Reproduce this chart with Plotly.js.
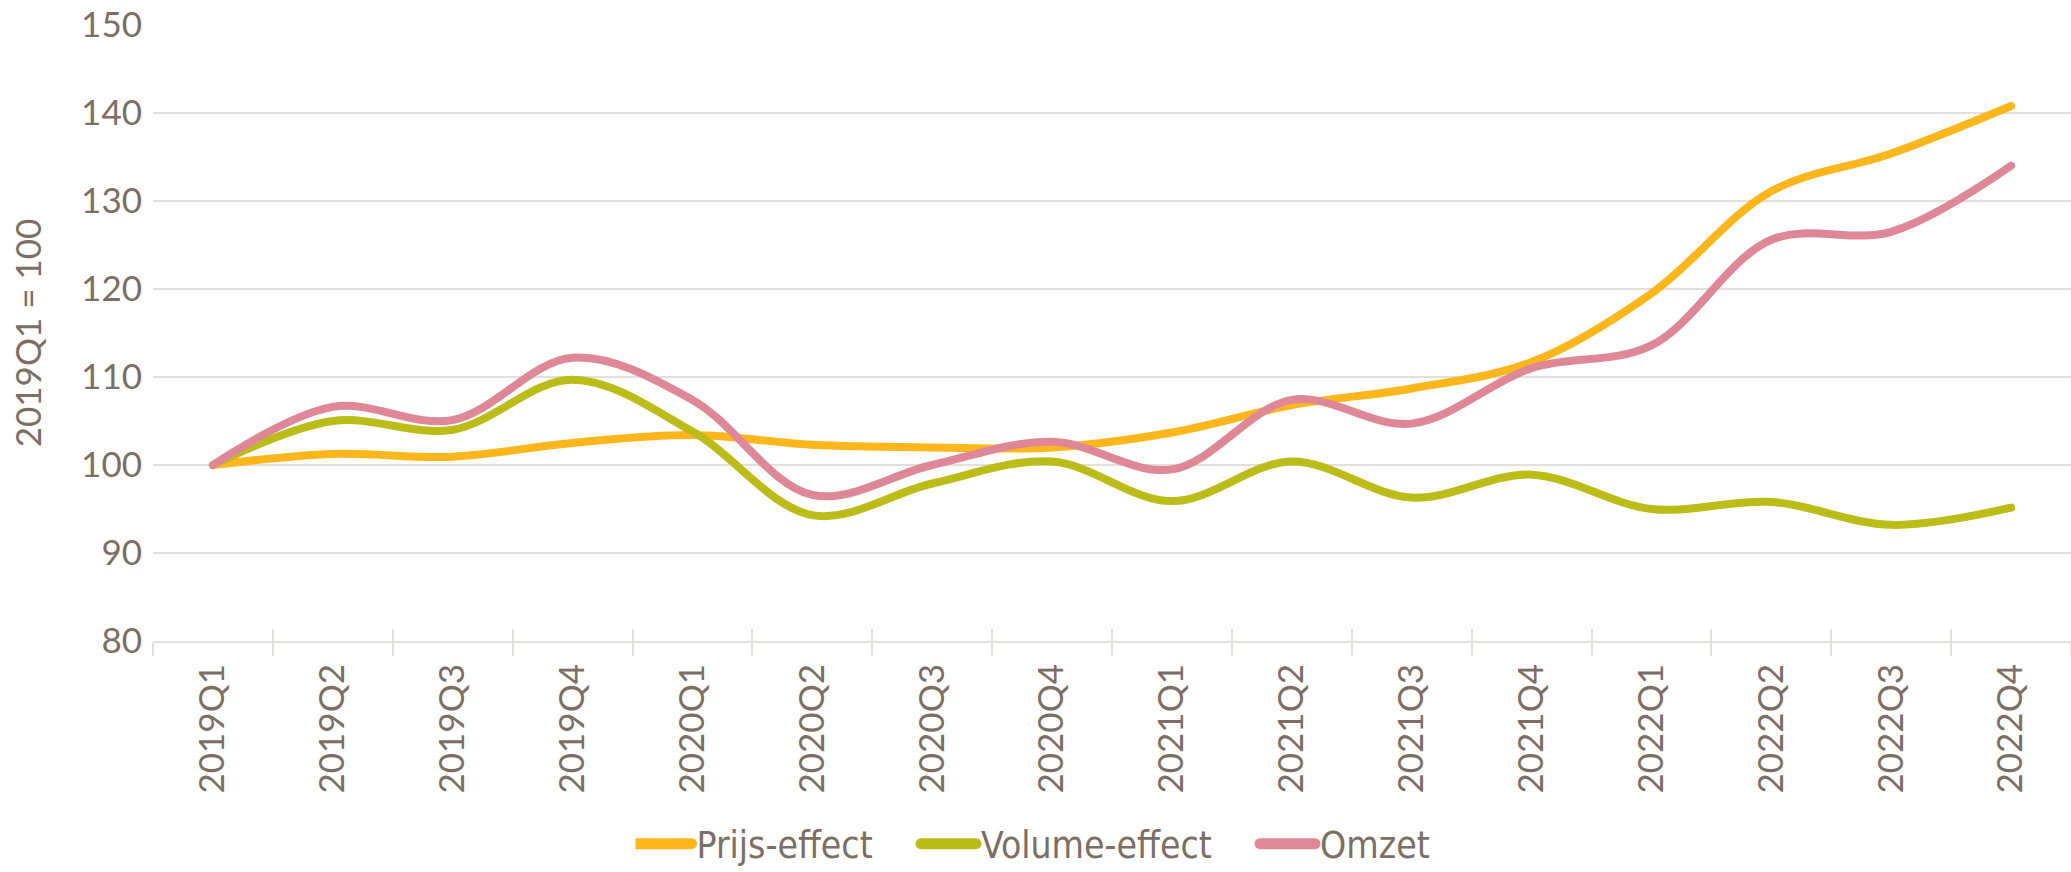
<!DOCTYPE html>
<html>
<head>
<meta charset="utf-8">
<script src="https://cdn.plot.ly/plotly-3.0.1.min.js"></script>
<style>
html,body{margin:0;padding:0;background:#fff;}
#chart{width:2071px;height:872px;}
#chart .js-line{stroke-linecap:round;stroke-linejoin:round;}
</style>
</head>
<body>
<div id="chart"></div>
<script>
const categories = ["2019Q1","2019Q2","2019Q3","2019Q4","2020Q1","2020Q2","2020Q3","2020Q4","2021Q1","2021Q2","2021Q3","2021Q4","2022Q1","2022Q2","2022Q3","2022Q4"];
const prijsEffect = [100, 101.25, 100.95, 102.5, 103.4, 102.3, 102.0, 102.0, 103.7, 106.8, 108.7, 111.7, 119.5, 131.1, 135.4, 140.8];
const volumeEffect = [100, 105.0, 104.0, 109.7, 103.8, 94.3, 97.9, 100.4, 95.9, 100.4, 96.3, 98.9, 95.0, 95.8, 93.2, 95.15];
const omzet = [100, 106.6, 105.1, 112.2, 107.4, 96.6, 100.0, 102.65, 99.5, 107.4, 104.7, 111.0, 113.6, 125.6, 126.5, 134.0];
const yTicks = [80, 90, 100, 110, 120, 130, 140, 150];
const seriesNames = ["Prijs-effect", "Volume-effect", "Omzet"];

const textColor = "#7A6E65";
const gridColor = "#E3DFDB";
const tickFont = {family: "Lato, 'Open Sans', sans-serif", size: 35, color: textColor};
const pad = "\u00A0\u00A0\u00A0\u00A0";

function series(name, y, color) {
  return {
    type: "scatter", mode: "lines", name: name, x: categories, y: y,
    line: {color: color, width: 8, shape: "spline", smoothing: 1},
    hoverinfo: "skip"
  };
}

const data = [
  series(seriesNames[0] + pad, prijsEffect, "#FDB71C"),
  series(seriesNames[1] + pad, volumeEffect, "#BBBC17"),
  series(seriesNames[2], omzet, "#DE8897"),
  {type: "scatter", mode: "lines", x: categories, y: categories.map(() => null), xaxis: "x2", showlegend: false, hoverinfo: "skip"}
];

const layout = {
  width: 2071, height: 872,
  margin: {l: 153, r: 0, t: 25, b: 231},
  paper_bgcolor: "#fff", plot_bgcolor: "#fff",
  showlegend: true,
  legend: {
    orientation: "h", xref: "container", yref: "container",
    x: 0.5, xanchor: "center", y: 0.032, yanchor: "middle",
    font: {family: "'DejaVu Sans Condensed', Roboto, sans-serif", size: 37, color: textColor},
    itemwidth: 51
  },
  xaxis: {
    type: "category", categoryarray: categories, categoryorder: "array",
    range: [-0.5, 15.5],
    showline: true, linecolor: gridColor, linewidth: 2,
    ticks: "outside", tickson: "boundaries", ticklen: 13, tickwidth: 2, tickcolor: gridColor,
    tickangle: -90, tickfont: tickFont, ticklabelstandoff: 7,
    showgrid: false, zeroline: false, fixedrange: true
  },
  xaxis2: {
    type: "category", categoryarray: categories, categoryorder: "array",
    overlaying: "x", matches: "x", side: "bottom",
    showline: false, showgrid: false, zeroline: false,
    ticks: "inside", tickson: "boundaries", ticklen: 12, tickwidth: 2, tickcolor: gridColor,
    showticklabels: false
  },
  yaxis: {
    range: [80, 150], tickvals: yTicks, ticktext: yTicks.map(String),
    showgrid: true, gridcolor: gridColor, gridwidth: 2,
    showline: false, zeroline: false, ticks: "",
    tickfont: tickFont, ticklabelstandoff: 10,
    title: {text: "2019Q1 = 100", font: {family: "Lato, 'Open Sans', sans-serif", size: 35, color: textColor}, standoff: 28},
    fixedrange: true
  }
};

Plotly.newPlot("chart", data, layout, {displayModeBar: false, staticPlot: true}).then(function (gd) {
  gd.querySelectorAll(".legend .js-line").forEach(function (p) {
    p.setAttribute("d", "M1,0h55");
    p.style.strokeWidth = "11px";
  });
});
</script>
</body>
</html>
